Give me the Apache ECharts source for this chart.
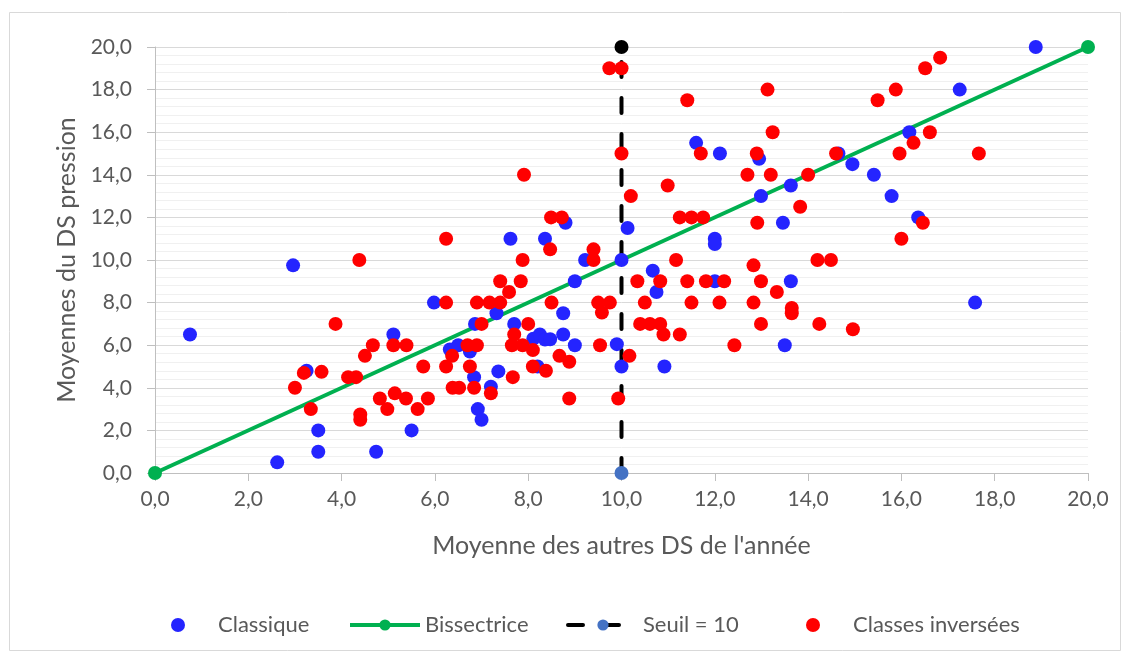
<!DOCTYPE html>
<html><head><meta charset="utf-8">
<script src="https://cdn.jsdelivr.net/npm/echarts@6/dist/echarts.min.js"></script>
<style>html,body{margin:0;padding:0;background:#fff}#c{width:1132px;height:660px}</style>
</head><body><div id="c"></div>
<script>
// ---- data ----
const seriesNames = ['Classique', 'Bissectrice', 'Seuil = 10', 'Classes inversées'];
const xTitle = "Moyenne des autres DS de l'année";
const yTitle = 'Moyennes du DS pression';

const classique = [
  [0.75,6.5],[2.96,9.75],[2.62,0.5],[3.5,2.0],[3.5,1.0],[3.25,4.8],[4.74,1.0],[5.11,6.5],
  [5.5,2.0],[5.98,8.0],[6.32,5.8],[6.5,6.0],[6.75,5.7],[6.84,4.5],[6.86,7.0],[6.92,3.0],
  [7.0,2.5],[7.2,4.05],[7.32,7.5],[7.36,4.77],[7.62,11.0],[7.7,7.0],[8.11,6.3],[8.25,6.5],
  [8.36,6.27],[8.47,6.28],[8.2,5.0],[8.36,11.0],[8.75,7.5],[8.75,6.5],[8.8,11.75],[9.0,9.0],
  [9.0,6.0],[9.22,10.0],[9.9,6.05],[10.0,10.0],[10.0,5.0],[10.13,11.5],[10.67,9.5],[10.75,8.5],
  [10.92,5.0],[11.6,15.5],[12.0,11.0],[12.0,10.75],[12.0,9.0],[12.11,15.0],[12.95,14.75],[12.99,13.0],
  [13.46,11.75],[13.5,6.0],[13.63,13.5],[13.63,9.0],[14.65,15.0],[14.95,14.5],[15.41,14.0],[15.79,13.0],
  [16.17,16.0],[16.36,12.0],[17.25,18.0],[17.58,8.0],[18.88,20.0]
];

const inversees = [
  [3.0,4.0],[3.19,4.7],[3.34,3.0],[3.57,4.75],[3.87,7.0],[4.14,4.5],[4.31,4.5],[4.38,10.0],
  [4.4,2.75],[4.4,2.5],[4.5,5.5],[4.67,6.0],[4.82,3.5],[4.98,3.0],[5.11,6.0],[5.14,3.74],
  [5.38,3.5],[5.39,6.0],[5.63,3.0],[5.75,5.0],[5.85,3.5],[6.24,11.0],[6.24,8.0],[6.24,5.0],
  [6.37,5.5],[6.38,4.0],[6.52,4.0],[6.7,6.0],[6.9,6.0],[6.75,5.0],[6.84,4.0],[6.9,8.0],
  [7.0,7.0],[7.17,8.0],[7.2,3.74],[7.4,8.0],[7.4,9.0],[7.59,8.5],[7.65,6.0],[7.67,4.5],
  [7.7,6.5],[7.84,9.0],[7.88,6.0],[7.88,10.0],[7.91,14.0],[8.0,7.0],[8.1,5.77],[8.1,5.0],
  [8.38,4.8],[8.47,10.5],[8.49,12.0],[8.5,8.0],[8.67,5.5],[8.72,12.0],[8.88,5.22],[8.88,3.5],
  [9.4,10.5],[9.4,10.0],[9.5,8.0],[9.54,6.0],[9.58,7.53],[9.74,19.0],[9.75,8.0],[9.93,3.5],
  [10.0,19.0],[10.0,15.0],[10.17,5.5],[10.2,13.0],[10.34,9.0],[10.4,7.0],[10.5,8.0],[10.61,7.0],
  [10.83,7.0],[10.83,9.0],[10.9,6.5],[10.99,13.5],[11.17,10.0],[11.25,12.0],[11.25,6.5],[11.41,17.5],
  [11.41,9.0],[11.5,12.0],[11.5,8.0],[11.7,15.0],[11.75,12.0],[11.81,9.0],[12.1,8.0],[12.2,9.0],
  [12.42,6.0],[12.7,14.0],[12.83,9.75],[12.83,8.0],[12.9,15.0],[12.91,11.75],[12.99,9.0],[12.99,7.0],
  [13.13,18.0],[13.2,14.0],[13.24,16.0],[13.33,8.5],[13.65,7.75],[13.65,7.5],[13.83,12.5],[14.0,14.0],
  [14.2,10.0],[14.24,7.0],[14.49,10.0],[14.6,15.0],[14.96,6.75],[15.49,17.5],[15.88,18.0],[15.96,15.0],
  [16.0,11.0],[16.26,15.5],[16.46,11.75],[16.51,19.0],[16.61,16.0],[16.83,19.5],[17.66,15.0]
];

const bissectrice = [[0, 0], [20, 20]];
const seuil = [[10, 0], [10, 20]];
const axisMin = 0, axisMax = 20, axisStep = 2;

// ---- chart ----
const FONT = 'Lato';
const TXT = '#595959';
const fmt = v => v.toFixed(1).replace('.', ',');

const chart = echarts.init(document.getElementById('c'), null, {renderer: 'canvas'});

const axisCommon = {
  type: 'value', min: axisMin, max: axisMax, interval: axisStep,
  nameLocation: 'middle',
  nameTextStyle: {fontFamily: FONT, fontSize: 25, color: TXT},
  axisLine: {show: true, lineStyle: {color: '#bfbfbf', width: 1}},
  axisTick: {show: true, inside: false, length: 8, lineStyle: {color: '#bfbfbf'}},
  axisLabel: {fontFamily: FONT, fontSize: 21, color: TXT, formatter: fmt},
};

const legendBase = {
  top: 609, itemWidth: 70, itemHeight: 14, itemGap: 0,
  textStyle: {fontFamily: FONT, fontSize: 22, color: TXT},
  lineStyle: {width: 4}
};
const legendLefts = [166, 343, 561, 801];

chart.setOption({
  animation: false,
  backgroundColor: '#fff',
  graphic: [{
    type: 'rect', left: 9, top: 12, z: -10,
    shape: {width: 1111, height: 638},
    style: {fill: '#fff', stroke: '#d9d9d9', lineWidth: 1}
  }],
  grid: {left: 155, right: 44, top: 47, bottom: 187, containLabel: false},
  xAxis: Object.assign({}, axisCommon, {
    name: xTitle, nameGap: 60,
    axisLabel: Object.assign({}, axisCommon.axisLabel, {margin: 16}),
    splitLine: {show: false},
    minorTick: {show: false},
    minorSplitLine: {show: false}
  }),
  yAxis: Object.assign({}, axisCommon, {
    name: yTitle, nameGap: 75,
    axisLabel: Object.assign({}, axisCommon.axisLabel, {margin: 23}),
    splitLine: {show: true, lineStyle: {color: '#d9d9d9', width: 1}},
    minorTick: {show: false, splitNumber: 5},
    minorSplitLine: {show: true, lineStyle: {color: '#f0f0f0', width: 1}}
  }),
  legend: seriesNames.map((n, i) => Object.assign({}, legendBase, {left: legendLefts[i], data: [n]})),
  series: [
    {
      name: seriesNames[0], type: 'scatter', data: classique, z: 3,
      symbol: 'circle', symbolSize: 14,
      itemStyle: {color: '#2424ff', opacity: 1}
    },
    {
      name: seriesNames[1], type: 'line', data: bissectrice, z: 2,
      symbol: 'circle', symbolSize: 14, showSymbol: true,
      lineStyle: {color: '#00b050', width: 4},
      itemStyle: {color: '#00b050'}
    },
    {
      name: seriesNames[2], type: 'line', data: seuil.map((p, i) => i === seuil.length - 1 ? {value: p, itemStyle: {color: '#000'}} : p), z: 2,
      symbol: 'circle', symbolSize: 14, showSymbol: true,
      lineStyle: {color: '#000', width: 4, type: [15, 21], cap: 'round'},
      itemStyle: {color: '#4472c4'}
    },
    {
      name: seriesNames[3], type: 'scatter', data: inversees, z: 4,
      symbol: 'circle', symbolSize: 14,
      itemStyle: {color: '#ff0000', opacity: 1}
    }
  ]
});
</script>
</body></html>
